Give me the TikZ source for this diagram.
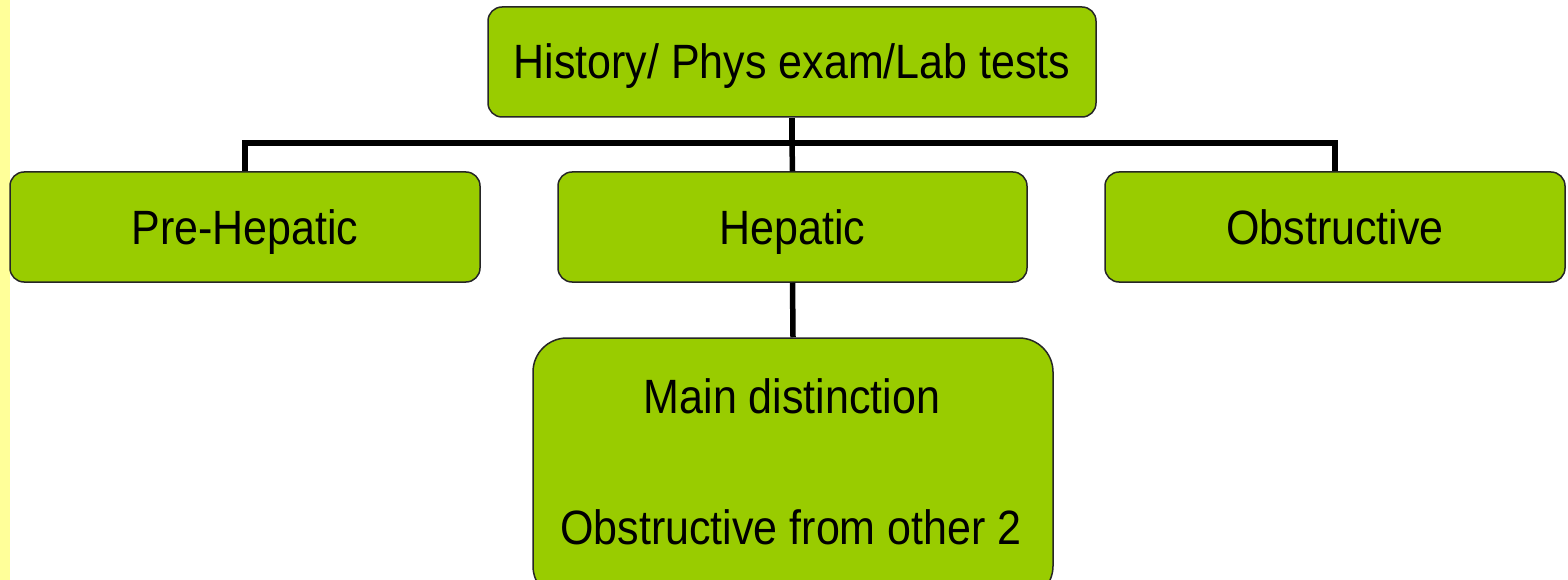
\documentclass[tikz,border=0pt]{standalone}
\usepackage{fontspec}
\setmainfont{Liberation Sans}
\usepackage{graphicx}
\definecolor{boxgreen}{HTML}{99CC00}
\definecolor{stripyellow}{HTML}{FFFF99}
\newcommand\stretchtxt[1]{\scalebox{1}[1.12]{#1}}
\tikzset{
  txt/.style={font=\fontsize{43}{50}\selectfont, inner sep=0pt, text height=34pt, text depth=0pt},
  gbox/.style={txt, draw=black!85, line width=1.5pt, fill=boxgreen, rounded corners=14pt, align=center},
  conn/.style={line width=5.5pt, black},
}
\begin{document}
\begin{tikzpicture}[x=1pt,y=-1pt]
\useasboundingbox (0,0) rectangle (1568,580);
\clip (0,0) rectangle (1568,580);
\fill[white] (0,0) rectangle (1568,580);
\fill[stripyellow] (0,0) rectangle (9.5,580);
\coordinate (bus) at (792,143);
\node[gbox, minimum width=608pt, minimum height=110pt] (top) at (792,62) {\stretchtxt{History/ Phys exam/Lab tests}};
\node[gbox, minimum width=470pt, minimum height=110pt] (pre) at (245,227) {\stretchtxt{Pre-Hepatic}};
\node[gbox, minimum width=469pt, minimum height=110pt] (hep) at (792.5,227) {\stretchtxt{Hepatic}};
\node[gbox, minimum width=460pt, minimum height=110pt] (obs) at (1335,227) {\stretchtxt{Obstructive}};
\node[gbox, rounded corners=34pt, minimum width=520pt, minimum height=262pt] (main) at (793,469) {};
\node[txt] (l1) at (792,396) {\stretchtxt{Main distinction}};
\node[txt] (l2) at (791,527) {\stretchtxt{Obstructive from other 2}};
\draw[conn] (top.south) -- (top.south |- bus);
\draw[conn] (pre.north) -- (pre.north |- bus) -- (obs.north |- bus) -- (obs.north);
\draw[conn] (top.south |- bus) -- (hep.north);
\draw[conn] (hep.south) -- (main.north);
\end{tikzpicture}
\end{document}
